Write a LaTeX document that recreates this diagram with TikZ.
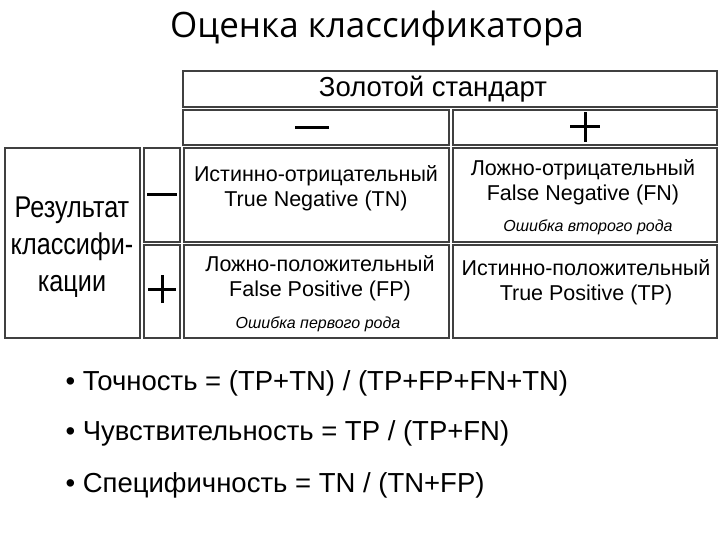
\documentclass[tikz,border=0pt]{standalone}
\usepackage{fontspec}
\setmainfont{Liberation Sans}
\newfontfamily\titlefont{Open Sans}
\begin{document}
\begin{tikzpicture}[x=1pt,y=-1pt,
 cell/.style={draw,line width=1.6pt,draw=black!75},
 txt/.style={font=\fontsize{21.5}{25}\selectfont,align=center},
 note/.style={font=\itshape\fontsize{16}{18}\selectfont},
 sg/.style={line width=3pt},
 bul/.style={anchor=west,font=\fontsize{27.5}{30}\selectfont}]
\useasboundingbox (0,0) rectangle (720,540);
\node (title) at (377,28) {\titlefont\fontsize{35}{38}\selectfont Оценка классификатора};
\draw[cell] (183,71) rectangle (717,107);
\node (gs) at (433,89) {\fontsize{27.5}{30}\selectfont Золотой стандарт};
\draw[cell] (183,110) rectangle (449,145);
\draw[cell] (453,110) rectangle (717,145);
\coordinate (hm) at (312,128);
\draw[sg] ([xshift=-17pt]hm) -- ([xshift=17pt]hm);
\coordinate (hp) at (585,127);
\draw[sg] ([xshift=-15pt]hp) -- ([xshift=15pt]hp) ([yshift=-15pt]hp) -- ([yshift=15pt]hp);
\draw[cell] (5,148) rectangle (140,338);
\node[align=center,font=\fontsize{30}{37}\selectfont,xscale=0.84,transform shape] (res) at (72,247) {Результат\\классифи-\\кации};
\draw[cell] (144,148) rectangle (180,242);
\draw[cell] (144,245) rectangle (180,338);
\coordinate (vm) at (162,195);
\draw[sg] ([xshift=-15pt]vm) -- ([xshift=15pt]vm);
\coordinate (vp) at (162,289);
\draw[sg] ([xshift=-14pt]vp) -- ([xshift=14pt]vp) ([yshift=-14pt]vp) -- ([yshift=14pt]vp);
\draw[cell] (184,148) rectangle (449,242);
\draw[cell] (453,148) rectangle (717,242);
\draw[cell] (184,245) rectangle (449,338);
\draw[cell] (453,245) rectangle (717,338);
\node[txt] (tn) at (316,188) {Истинно-отрицательный\\True Negative (TN)};
\node[txt] (fn) at (583,182) {Ложно-отрицательный\\False Negative (FN)};
\node[note] (fnn) at (588,227) {Ошибка второго рода};
\node[txt] (fp) at (320,278) {Ложно-положительный\\False Positive (FP)};
\node[note] (fpn) at (318,324) {Ошибка первого рода};
\node[txt] (tp) at (586,282) {Истинно-положительный\\True Positive (TP)};
\node[bul] (b1) at (62,383) {• Точность = (TP+TN) / (TP+FP+FN+TN)};
\node[bul] (b2) at (62,433) {• Чувствительность = TP / (TP+FN)};
\node[bul] (b3) at (62,485) {• Специфичность = TN / (TN+FP)};
\end{tikzpicture}
\end{document}
